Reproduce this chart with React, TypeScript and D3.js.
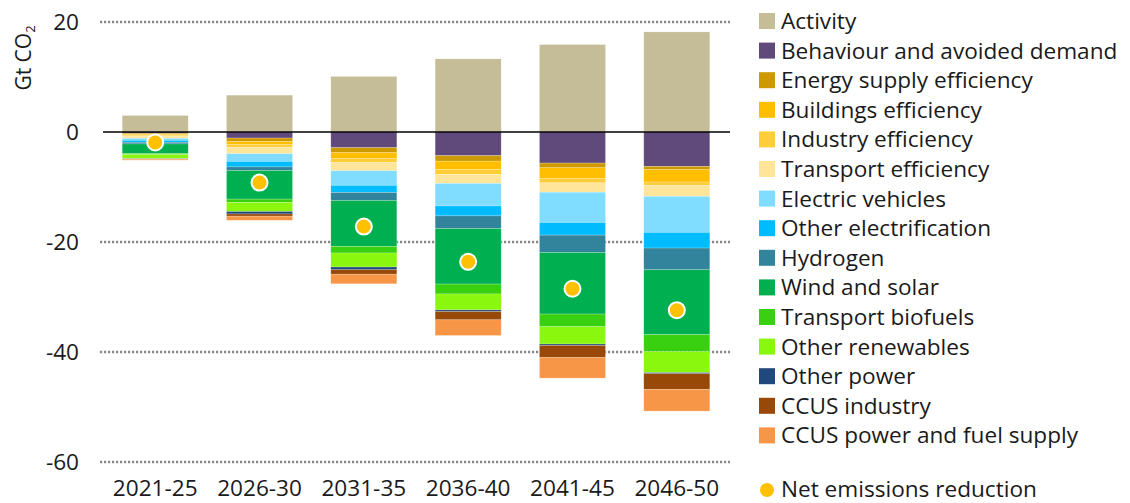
import React from "react";
import * as d3 from "d3";

const categories = ["2021-25", "2026-30", "2031-35", "2036-40", "2041-45", "2046-50"];

const activity = [3.0, 6.7, 10.1, 13.3, 15.9, 18.2];
const behaviour = [-0.25, -1.1, -2.85, -4.3, -5.65, -6.25];
const energySupplyEff = [-0.18, -0.6, -0.9, -1.0, -0.85, -0.6];
const buildingsEff = [-0.24, -0.6, -1.1, -1.5, -2.0, -2.25];
const industryEff = [-0.18, -0.5, -0.7, -0.9, -0.75, -0.6];
const transportEff = [-0.3, -1.15, -1.5, -1.65, -1.7, -2.0];
const electricVehicles = [-0.36, -1.4, -2.65, -4.1, -5.5, -6.55];
const otherElectrification = [-0.36, -1.0, -1.3, -1.8, -2.3, -2.85];
const hydrogen = [-0.3, -0.65, -1.45, -2.3, -3.15, -3.95];
const windSolar = [-1.76, -5.2, -8.35, -10.1, -11.2, -11.8];
const transportBiofuels = [-0.18, -0.6, -1.2, -1.8, -2.3, -3.1];
const otherRenewables = [-0.73, -1.65, -2.55, -2.9, -3.15, -3.8];
const otherPower = [-0.05, -0.45, -0.5, -0.3, -0.25, -0.2];
const ccusIndustry = [-0.05, -0.4, -0.8, -1.5, -2.2, -2.85];
const ccusPower = [-0.18, -0.75, -1.75, -2.85, -3.75, -3.95];
const netReduction = [-1.9, -9.2, -17.2, -23.6, -28.5, -32.4];

const yTicks = [20, 0, -20, -40, -60];

const seriesNames = [
  "Activity",
  "Behaviour and avoided demand",
  "Energy supply efficiency",
  "Buildings efficiency",
  "Industry efficiency",
  "Transport efficiency",
  "Electric vehicles",
  "Other electrification",
  "Hydrogen",
  "Wind and solar",
  "Transport biofuels",
  "Other renewables",
  "Other power",
  "CCUS industry",
  "CCUS power and fuel supply",
];
const seriesValues = [
  activity,
  behaviour,
  energySupplyEff,
  buildingsEff,
  industryEff,
  transportEff,
  electricVehicles,
  otherElectrification,
  hydrogen,
  windSolar,
  transportBiofuels,
  otherRenewables,
  otherPower,
  ccusIndustry,
  ccusPower,
];
const seriesColors = [
  "#C4BD97",
  "#604A7B",
  "#CC9A00",
  "#FFBF00",
  "#FFCD38",
  "#FFE59A",
  "#80DDFF",
  "#00BCFF",
  "#31849B",
  "#00B050",
  "#38D010",
  "#8AF70E",
  "#1F497D",
  "#984807",
  "#F79646",
];

const W = 1130;
const H = 503;
const FONT = "'Open Sans', Lato, sans-serif";
const TEXT = "#1a1a1a";
const FS = 22.6;

export default function App() {
  const x = d3
    .scaleBand<string>()
    .domain(categories)
    .range([103, 729])
    .paddingInner(0.367)
    .paddingOuter(0.184);
  const y = d3.scaleLinear().domain([-60, 20]).range([462, 22]);

  const rows = categories.map((c, i) => {
    const r: Record<string, number | string> = { cat: c };
    seriesNames.forEach((n, k) => (r[n] = seriesValues[k][i]));
    return r;
  });
  const stack = d3
    .stack<Record<string, number | string>>()
    .keys(seriesNames)
    .value((d, key) => d[key] as number)
    .offset(d3.stackOffsetDiverging);
  const stacked = stack(rows);

  const legendX = 759;
  const legendY0 = 21;
  const legendStep = 29.6;

  return (
    <svg width={W} height={H} style={{ position: "absolute", left: 0, top: 0 }} fontFamily={FONT}>
      <rect width={W} height={H} fill="#fff" />
      {/* gridlines */}
      {yTicks
        .filter((t) => t !== 0)
        .map((t) => (
          <line
            key={t}
            x1={100}
            x2={730}
            y1={y(t)}
            y2={y(t)}
            stroke="#888888"
            strokeWidth={2.4}
            strokeDasharray="2.2 1.8"
          />
        ))}
      {/* bars */}
      {stacked.map((s, k) => (
        <g key={s.key} fill={seriesColors[k]}>
          {s.map((d, i) => {
            const top = y(Math.max(d[0], d[1]));
            const bot = y(Math.min(d[0], d[1]));
            return (
              <rect
                key={i}
                x={x(categories[i])}
                y={top}
                width={x.bandwidth()}
                height={Math.max(0, bot - top)}
                stroke="#ffffff"
                strokeOpacity={0.35}
                strokeWidth={0.6}
              />
            );
          })}
        </g>
      ))}
      {/* zero line */}
      <line x1={103} x2={730} y1={y(0)} y2={y(0)} stroke="#000" strokeWidth={1.5} />
      {/* net dots */}
      {netReduction.map((v, i) => (
        <circle
          key={i}
          cx={(x(categories[i]) as number) + x.bandwidth() / 2}
          cy={y(v)}
          r={8}
          fill="#FFC000"
          stroke="#fff"
          strokeWidth={2}
        />
      ))}
      {/* y tick labels */}
      {yTicks.map((t) => (
        <text
          key={t}
          x={79}
          y={y(t)}
          dy="0.35em"
          textAnchor="end"
          fontSize={FS}
          fill={TEXT}
        >
          {t}
        </text>
      ))}
      {/* y axis title */}
      <text
        transform="translate(31,58) rotate(-90)"
        textAnchor="middle"
        fontSize={21}
        fill={TEXT}
      >
        Gt CO<tspan fontSize={13} dy={4}>2</tspan>
      </text>
      {/* x labels */}
      {categories.map((c) => (
        <text
          key={c}
          x={(x(c) as number) + x.bandwidth() / 2}
          y={496}
          textAnchor="middle"
          fontSize={FS}
          fill={TEXT}
        >
          {c}
        </text>
      ))}
      {/* legend */}
      {seriesNames.map((n, k) => {
        const cy = legendY0 + k * legendStep;
        return (
          <g key={n}>
            <rect x={legendX} y={cy - 8} width={16} height={16} fill={seriesColors[k]} />
            <text x={781} y={cy} dy="0.35em" fontSize={FS} fill={TEXT}>
              {n}
            </text>
          </g>
        );
      })}
      <circle cx={767} cy={490} r={7} fill="#FFC000" />
      <text x={781} y={489} dy="0.35em" fontSize={FS} fill={TEXT}>
        Net emissions reduction
      </text>
    </svg>
  );
}
